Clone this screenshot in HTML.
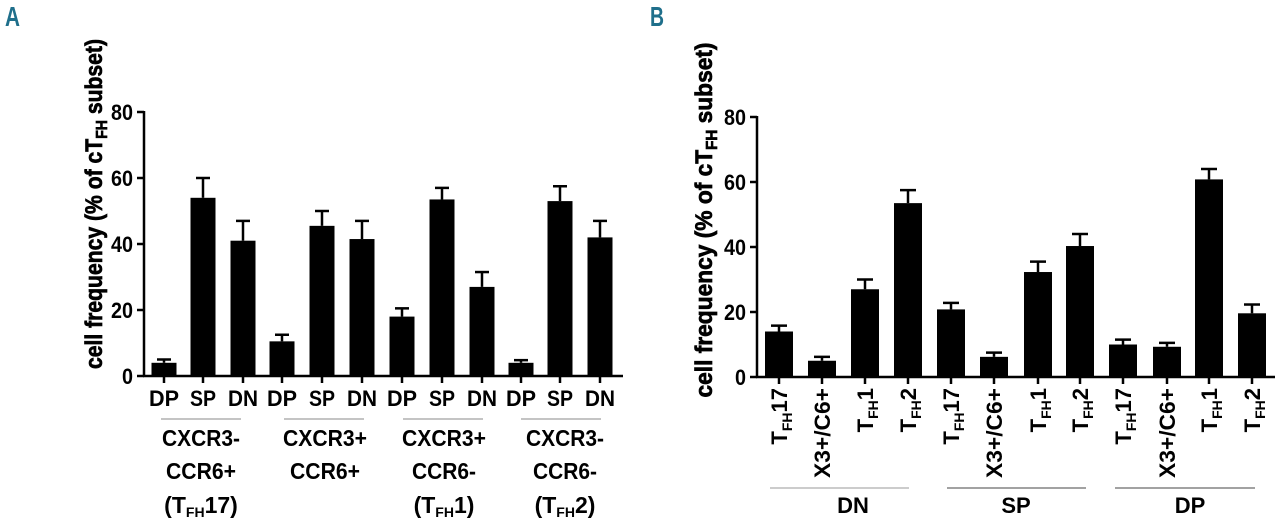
<!DOCTYPE html>
<html><head><meta charset="utf-8"><style>
html,body{margin:0;padding:0;background:#fff;}
svg{display:block;font-family:"Liberation Sans",Arial,sans-serif;font-weight:bold;}
</style></head><body>
<svg width="1280" height="523" viewBox="0 0 1280 523" xmlns="http://www.w3.org/2000/svg">
<text x="5" y="26" font-size="28" fill="#1f6f8b" textLength="15" lengthAdjust="spacingAndGlyphs">A</text>
<text x="650" y="26" font-size="28" fill="#1f6f8b" textLength="14" lengthAdjust="spacingAndGlyphs">B</text>

<!-- ===== Panel A ===== -->
<g stroke="#000" stroke-width="2.5" fill="none">
<line x1="144" y1="111" x2="144" y2="377"/>
<line x1="143" y1="376" x2="623" y2="376"/>
<line x1="137" y1="112" x2="144" y2="112"/>
<line x1="137" y1="178" x2="144" y2="178"/>
<line x1="137" y1="244" x2="144" y2="244"/>
<line x1="137" y1="310" x2="144" y2="310"/>
<line x1="137" y1="376" x2="144" y2="376"/>
</g>
<g font-size="22" text-anchor="end">
<text x="133" y="120" textLength="22" lengthAdjust="spacingAndGlyphs">80</text>
<text x="133" y="186" textLength="22" lengthAdjust="spacingAndGlyphs">60</text>
<text x="133" y="252" textLength="22" lengthAdjust="spacingAndGlyphs">40</text>
<text x="133" y="318" textLength="22" lengthAdjust="spacingAndGlyphs">20</text>
<text x="133" y="384" textLength="11" lengthAdjust="spacingAndGlyphs">0</text>
</g>
<text transform="translate(102,204) rotate(-90)" font-size="24" text-anchor="middle" stroke="#000" stroke-width="0.7" textLength="330" lengthAdjust="spacingAndGlyphs">cell frequency (% of cT<tspan font-size="16" dy="5">FH</tspan><tspan dy="-5"> subset)</tspan></text>
<g id="barsA"></g>
<g font-size="22" text-anchor="middle" id="labA"></g>
<g stroke="#888" stroke-width="1">
<line x1="161" y1="419" x2="241" y2="419"/>
<line x1="284" y1="419" x2="364" y2="419"/>
<line x1="403" y1="419" x2="483" y2="419"/>
<line x1="521" y1="419" x2="601" y2="419"/>
</g>
<g font-size="23" text-anchor="middle">
<text x="201" y="446" textLength="78" lengthAdjust="spacingAndGlyphs">CXCR3-</text><text x="201" y="479" textLength="70" lengthAdjust="spacingAndGlyphs">CCR6+</text><text x="201" y="513">(T<tspan font-size="14" dy="4">FH</tspan><tspan dy="-4">17)</tspan></text>
<text x="325" y="446" textLength="84" lengthAdjust="spacingAndGlyphs">CXCR3+</text><text x="325" y="479" textLength="70" lengthAdjust="spacingAndGlyphs">CCR6+</text>
<text x="444" y="446" textLength="84" lengthAdjust="spacingAndGlyphs">CXCR3+</text><text x="444" y="479" textLength="64" lengthAdjust="spacingAndGlyphs">CCR6-</text><text x="444" y="513">(T<tspan font-size="14" dy="4">FH</tspan><tspan dy="-4">1)</tspan></text>
<text x="565" y="446" textLength="78" lengthAdjust="spacingAndGlyphs">CXCR3-</text><text x="565" y="479" textLength="64" lengthAdjust="spacingAndGlyphs">CCR6-</text><text x="565" y="513">(T<tspan font-size="14" dy="4">FH</tspan><tspan dy="-4">2)</tspan></text>
</g>

<!-- ===== Panel B ===== -->
<g stroke="#000" stroke-width="2.5" fill="none">
<line x1="757" y1="116" x2="757" y2="378"/>
<line x1="756" y1="377" x2="1275" y2="377"/>
<line x1="750" y1="117" x2="757" y2="117"/>
<line x1="750" y1="182" x2="757" y2="182"/>
<line x1="750" y1="247" x2="757" y2="247"/>
<line x1="750" y1="312" x2="757" y2="312"/>
<line x1="750" y1="377" x2="757" y2="377"/>
</g>
<g font-size="22" text-anchor="end">
<text x="746" y="125" textLength="22" lengthAdjust="spacingAndGlyphs">80</text>
<text x="746" y="190" textLength="22" lengthAdjust="spacingAndGlyphs">60</text>
<text x="746" y="255" textLength="22" lengthAdjust="spacingAndGlyphs">40</text>
<text x="746" y="320" textLength="22" lengthAdjust="spacingAndGlyphs">20</text>
<text x="746" y="385" textLength="11" lengthAdjust="spacingAndGlyphs">0</text>
</g>
<text transform="translate(712,220) rotate(-90)" font-size="24" text-anchor="middle" stroke="#000" stroke-width="0.7" textLength="355" lengthAdjust="spacingAndGlyphs">cell frequency (% of cT<tspan font-size="16" dy="5">FH</tspan><tspan dy="-5"> subset)</tspan></text>
<g id="barsB"></g>
<g font-size="22" text-anchor="end" id="labB"></g>
<g stroke-width="1">
<line x1="770" y1="488" x2="909" y2="488" stroke="#999"/>
<line x1="947" y1="488" x2="1086" y2="488" stroke="#444"/>
<line x1="1115" y1="488" x2="1255" y2="488" stroke="#444"/>
</g>
<g font-size="22" text-anchor="middle">
<text x="853" y="513">DN</text>
<text x="1016" y="513">SP</text>
<text x="1190" y="513">DP</text>
</g>

<script>
var NS="http://www.w3.org/2000/svg";
function el(p,t,a,txt){var e=document.createElementNS(NS,t);for(var k in a)e.setAttribute(k,a[k]);if(txt)e.textContent=txt;p.appendChild(e);return e;}
var gA=document.getElementById('barsA'),lA=document.getElementById('labA');
var cA=[164,203,243,282,322,362,402,442,482,521,560,600];
var vA=[[4,5],[54,60],[41,47],[10.5,12.5],[45.5,50],[41.5,47],[18,20.5],[53.5,57],[27,31.5],[4,4.8],[53,57.5],[42,47]];
var nA=['DP','SP','DN'];
function yA(v){return 376-v*264/80;}
cA.forEach(function(c,i){
 var y=yA(vA[i][0]),e=yA(vA[i][1]);
 el(gA,'rect',{x:c-12.5,y:y,width:25,height:376-y,fill:'#000'});
 el(gA,'line',{x1:c,y1:y,x2:c,y2:e,stroke:'#000','stroke-width':2.5});
 el(gA,'line',{x1:c-7,y1:e,x2:c+7,y2:e,stroke:'#000','stroke-width':2.5});
 el(gA,'line',{x1:c,y1:376,x2:c,y2:383,stroke:'#000','stroke-width':2.5});
 el(lA,'text',{x:c,y:406,textLength:(i%3==1?26:30),lengthAdjust:'spacingAndGlyphs'},nA[i%3]);
});
var gB=document.getElementById('barsB'),lB=document.getElementById('labB');
var cB=[779,822,865,908,951,994,1038,1080,1123,1167,1209,1252];
var vB=[[14,15.8],[5,6.2],[27,30],[53.5,57.5],[20.8,22.8],[6.2,7.5],[32.3,35.5],[40.3,44],[10,11.5],[9.3,10.5],[60.8,64],[19.6,22.3]];
function yB(v){return 377-v*260/80;}
var lb=[['17'],null,['1'],['2']];
cB.forEach(function(c,i){
 var y=yB(vB[i][0]),e=yB(vB[i][1]);
 el(gB,'rect',{x:c-14,y:y,width:28,height:377-y,fill:'#000'});
 el(gB,'line',{x1:c,y1:y,x2:c,y2:e,stroke:'#000','stroke-width':2.5});
 el(gB,'line',{x1:c-8,y1:e,x2:c+8,y2:e,stroke:'#000','stroke-width':2.5});
 el(gB,'line',{x1:c,y1:377,x2:c,y2:384,stroke:'#000','stroke-width':2.5});
 var t=el(lB,'text',{transform:'translate('+(c+8)+',388) rotate(-90)'});
 var k=i%4;
 if(k==1){t.textContent='X3+/C6+';t.setAttribute('textLength',90);t.setAttribute('lengthAdjust','spacingAndGlyphs');}
 else{
  el(t,'tspan',{},'T');
  el(t,'tspan',{'font-size':14,dy:5},'FH');
  el(t,'tspan',{dy:-5},lb[k][0]);
 }
});
</script>
</svg>
</body></html>
